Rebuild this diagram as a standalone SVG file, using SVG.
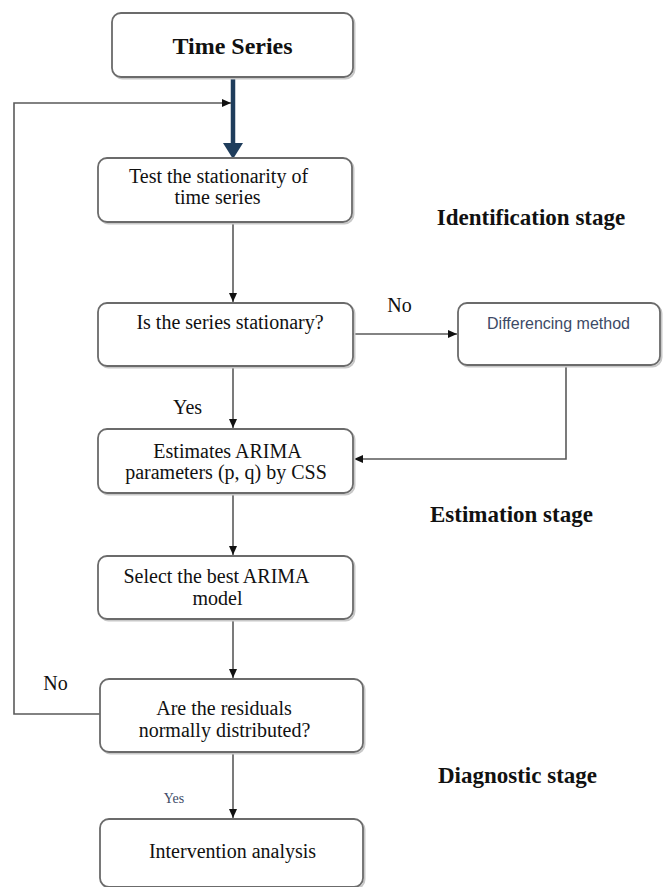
<svg xmlns="http://www.w3.org/2000/svg" width="664" height="887" viewBox="0 0 664 887">
<style>
.box{fill:#fff;stroke:#6b6b6b;stroke-width:1.8}
.shadow{fill:none;stroke:#c8c8c8;stroke-width:2}
.t{font-family:"Liberation Serif","Times New Roman",serif;font-size:20px;fill:#111;text-anchor:middle}
.h{font-family:"Liberation Serif","Times New Roman",serif;font-size:23px;font-weight:bold;fill:#111;text-anchor:middle}
.s{font-family:"Liberation Sans",Arial,sans-serif;font-size:16px;fill:#3d4a66;text-anchor:middle}
.c{fill:none;stroke:#5a5a5a;stroke-width:1.6}
</style>
<defs>
<marker id="ah" markerUnits="userSpaceOnUse" markerWidth="10" markerHeight="10" refX="9" refY="5" orient="auto">
<path d="M0,1 L9,5 L0,9 Z" fill="#111"/>
</marker>
</defs>
<g id="connectors">
<line x1="233" y1="77" x2="233" y2="145" stroke="#1f3d5c" stroke-width="4.5"/>
<polygon points="223,143 243,143 233,159" fill="#1f3d5c"/>
<path class="c" d="M100,714 H14 V103 H231" marker-end="url(#ah)"/>
<line class="c" x1="233" y1="222" x2="233" y2="302" marker-end="url(#ah)"/>
<line class="c" x1="353" y1="334" x2="457" y2="334" marker-end="url(#ah)"/>
<line class="c" x1="233" y1="366" x2="233" y2="428" marker-end="url(#ah)"/>
<path class="c" d="M566,365 V459 H354" marker-end="url(#ah)"/>
<line class="c" x1="233" y1="493" x2="233" y2="555" marker-end="url(#ah)"/>
<line class="c" x1="233" y1="619" x2="233" y2="678" marker-end="url(#ah)"/>
<line class="c" x1="233" y1="752" x2="233" y2="818" marker-end="url(#ah)"/>
</g>
<g id="time-series">
<rect class="shadow" x="113.5" y="14.5" width="241" height="64" rx="9"/>
<rect class="box" x="112" y="13" width="241" height="64" rx="9"/>
<text class="t" x="232.5" y="54" style="font-size:24px;font-weight:bold">Time Series</text>
</g>
<g id="test">
<rect class="shadow" x="99.5" y="159.5" width="254" height="64" rx="9"/>
<rect class="box" x="98" y="158" width="254" height="64" rx="9"/>
<text class="t" x="218.5" y="183">Test the stationarity of</text>
<text class="t" x="217.5" y="204">time series</text>
</g>
<g id="stationary">
<rect class="shadow" x="99.5" y="304.5" width="255" height="63" rx="9"/>
<rect class="box" x="98" y="303" width="255" height="63" rx="9"/>
<text class="t" x="230" y="329">Is the series stationary?</text>
</g>
<g id="differencing">
<rect class="shadow" x="459.5" y="304.5" width="202" height="62" rx="9"/>
<rect class="box" x="458" y="303" width="202" height="62" rx="9"/>
<text class="s" x="558.5" y="329">Differencing method</text>
</g>
<g id="estimates">
<rect class="shadow" x="99.5" y="430.5" width="255" height="64" rx="9"/>
<rect class="box" x="98" y="429" width="255" height="64" rx="9"/>
<text class="t" x="227.5" y="458">Estimates ARIMA</text>
<text class="t" x="226" y="479">parameters (p, q) by CSS</text>
</g>
<g id="select">
<rect class="shadow" x="99.5" y="557.5" width="255" height="63" rx="9"/>
<rect class="box" x="98" y="556" width="255" height="63" rx="9"/>
<text class="t" x="216.5" y="583">Select the best ARIMA</text>
<text class="t" x="217.5" y="605">model</text>
</g>
<g id="residuals">
<rect class="shadow" x="101.5" y="680.5" width="263" height="73" rx="9"/>
<rect class="box" x="100" y="679" width="263" height="73" rx="9"/>
<text class="t" x="224" y="715">Are the residuals</text>
<text class="t" x="224.5" y="737">normally distributed?</text>
</g>
<g id="intervention">
<rect class="shadow" x="101.5" y="820.5" width="263" height="68" rx="9"/>
<rect class="box" x="100" y="819" width="263" height="68" rx="9"/>
<text class="t" x="232.5" y="858">Intervention analysis</text>
</g>
<g id="labels">
<text class="t" x="399.5" y="312">No</text>
<text class="t" x="187.5" y="414">Yes</text>
<text class="t" x="55.5" y="690">No</text>
<text class="t" x="174" y="803" style="font-size:14px;fill:#3d4a66">Yes</text>
<text class="h" x="531" y="225">Identification stage</text>
<text class="h" x="511.5" y="522">Estimation stage</text>
<text class="h" x="517.5" y="783">Diagnostic stage</text>
</g>
</svg>
